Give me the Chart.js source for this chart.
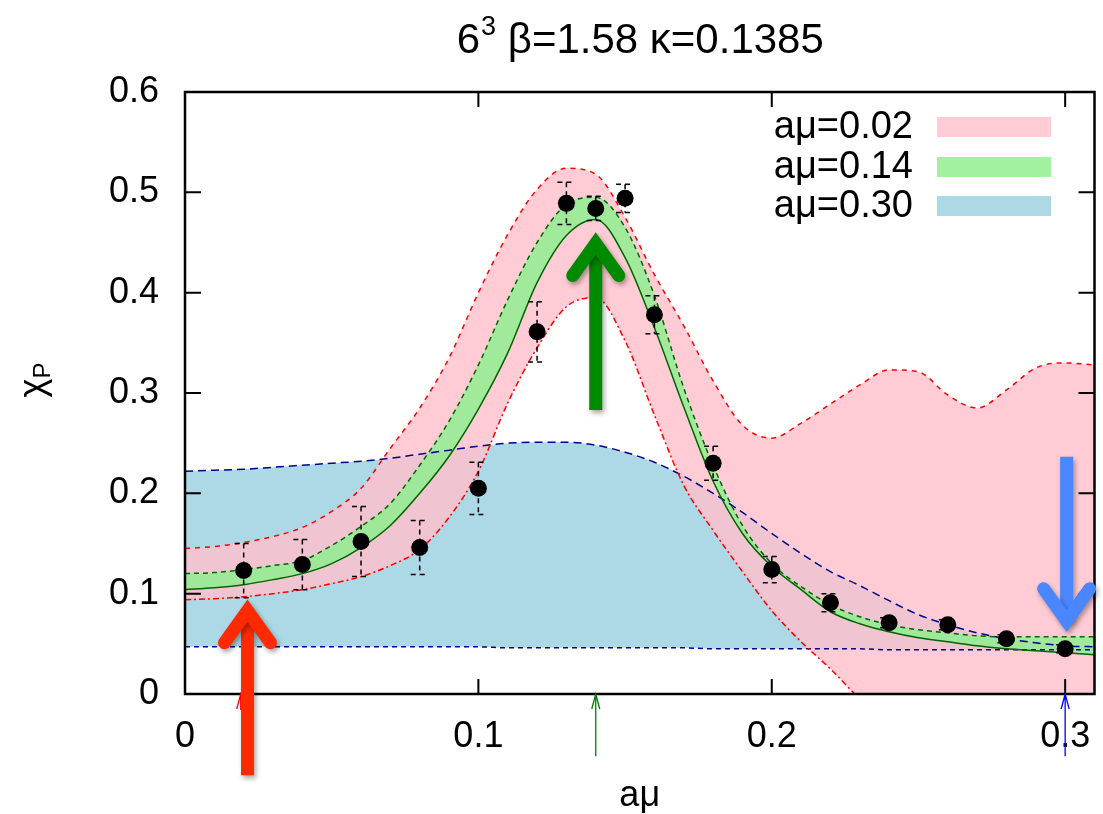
<!DOCTYPE html>
<html>
<head>
<meta charset="utf-8">
<script src="https://cdn.jsdelivr.net/npm/chart.js@4.4.0/dist/chart.umd.min.js"></script>
<style>
  html, body { margin: 0; padding: 0; background: #fff; }
</style>
</head>
<body>
<canvas id="chart" width="1103" height="814"></canvas>
<script>
// grid of a*mu values where the bands were sampled
var amu = [0, 0.01, 0.02, 0.03, 0.04, 0.05, 0.06, 0.07, 0.08, 0.09, 0.10, 0.11, 0.12, 0.13, 0.14, 0.15,
           0.16, 0.17, 0.18, 0.19, 0.20, 0.21, 0.22, 0.23, 0.24, 0.25, 0.26, 0.27, 0.28, 0.29, 0.30, 0.31];

// band a*mu = 0.02 (pink)
var up002 = [0.145, 0.147, 0.151, 0.157, 0.166, 0.182, 0.205, 0.245, 0.285, 0.335, 0.400, 0.458, 0.503, 0.524, 0.518, 0.475,
             0.418, 0.367, 0.312, 0.268, 0.255, 0.270, 0.289, 0.308, 0.323, 0.321, 0.298, 0.285, 0.303, 0.325, 0.330, 0.328];
var lo002 = [0.094, 0.095, 0.097, 0.100, 0.104, 0.110, 0.117, 0.128, 0.144, 0.176, 0.222, 0.290, 0.345, 0.386, 0.395, 0.352,
             0.278, 0.208, 0.163, 0.122, 0.083, 0.052, 0.025, -0.005, -0.030, -0.040, -0.020, -0.002, -0.020, -0.050, -0.060, -0.060];

// band a*mu = 0.14 (green)
var up014 = [0.120, 0.121, 0.124, 0.128, 0.133, 0.148, 0.167, 0.190, 0.228, 0.272, 0.328, 0.393, 0.450, 0.488, 0.495, 0.465,
             0.397, 0.305, 0.228, 0.168, 0.130, 0.107, 0.089, 0.077, 0.069, 0.064, 0.061, 0.058, 0.057, 0.057, 0.057, 0.057];
var lo014 = [0.104, 0.106, 0.109, 0.114, 0.120, 0.130, 0.146, 0.168, 0.200, 0.237, 0.284, 0.340, 0.410, 0.457, 0.473, 0.435,
             0.365, 0.286, 0.212, 0.160, 0.127, 0.104, 0.082, 0.070, 0.062, 0.056, 0.052, 0.048, 0.045, 0.043, 0.041, 0.039];

// band a*mu = 0.30 (blue)
var up030 = [0.222, 0.223, 0.224, 0.226, 0.228, 0.230, 0.232, 0.235, 0.239, 0.243, 0.247, 0.250, 0.251, 0.251, 0.248, 0.241,
             0.231, 0.217, 0.200, 0.181, 0.160, 0.140, 0.122, 0.108, 0.093, 0.079, 0.069, 0.061, 0.055, 0.051, 0.048, 0.047];
var lo030 = [0.047, 0.047, 0.047, 0.047, 0.047, 0.047, 0.047, 0.047, 0.047, 0.047, 0.047, 0.046, 0.046, 0.046, 0.046, 0.046,
             0.046, 0.046, 0.045, 0.045, 0.045, 0.045, 0.045, 0.045, 0.044, 0.044, 0.044, 0.044, 0.044, 0.044, 0.044, 0.044];

// measured points
var ptX   = [0.02, 0.04, 0.06, 0.08, 0.10, 0.12, 0.13, 0.14, 0.15, 0.16, 0.18, 0.20, 0.22, 0.24, 0.26, 0.28, 0.30];
var ptY   = [0.123, 0.129, 0.152, 0.146, 0.205, 0.361, 0.489, 0.484, 0.494, 0.378, 0.230, 0.124, 0.091, 0.071, 0.069, 0.055, 0.045];
var ptErr = [0.027, 0.025, 0.035, 0.027, 0.026, 0.030, 0.021, 0.012, 0.014, 0.019, 0.017, 0.013, 0.009, 0.005, 0.005, 0.004, 0.004];

var legendLabels = ['a\u03bc=0.02', 'a\u03bc=0.14', 'a\u03bc=0.30'];
var xTicks = [0, 0.1, 0.2, 0.3];
var yTicks = [0, 0.1, 0.2, 0.3, 0.4, 0.5, 0.6];

// arrows in data units (x, tail y, tip y)
var bigArrows = [
  { x: 0.0213, from: -0.081, to: 0.097, color: '#ff2a00' },
  { x: 0.1400, from: 0.283,  to: 0.463, color: '#008a00' },
  { x: 0.3005, from: 0.2365, to: 0.059, color: '#4a86ff' }
];
var thinArrows = [
  { x: 0.019, from: -0.016, to: 0, color: '#ff0000' },
  { x: 0.140, from: -0.062, to: 0, color: '#008000' },
  { x: 0.300, from: -0.062, to: 0, color: '#0000ff' }
];

var FONT = "'Liberation Sans', Arial, Helvetica, sans-serif";
var PINK = 'rgba(255,192,203,0.82)', GREEN = 'rgba(144,238,144,0.85)', BLUE = '#add8e6';

function pts(ys) { return amu.map(function (x, i) { return { x: x, y: ys[i] }; }); }

function curve(ys, color, dash, order, fill, bg) {
  return {
    data: pts(ys), borderColor: color, borderWidth: 1.5, borderDash: dash,
    pointRadius: 0, cubicInterpolationMode: 'monotone', order: order,
    fill: fill === undefined ? false : { target: fill }, backgroundColor: bg || 'transparent'
  };
}

var deco = {
  id: 'deco',
  afterDatasetsDraw: function (chart) {
    var ctx = chart.ctx, xs = chart.scales.x, ys = chart.scales.y;
    ctx.save();
    ctx.strokeStyle = '#000';
    ctx.lineWidth = 1.5;
    ctx.setLineDash([5, 4]);
    ptX.forEach(function (x, i) {
      var px = xs.getPixelForValue(x);
      var t = ys.getPixelForValue(ptY[i] + ptErr[i]);
      var b = ys.getPixelForValue(ptY[i] - ptErr[i]);
      ctx.beginPath();
      ctx.moveTo(px, t); ctx.lineTo(px, b);
      ctx.moveTo(px - 9, t); ctx.lineTo(px + 9, t);
      ctx.moveTo(px - 9, b); ctx.lineTo(px + 9, b);
      ctx.stroke();
    });
    ctx.restore();
  },
  afterDraw: function (chart) {
    var ctx = chart.ctx, a = chart.chartArea, xs = chart.scales.x, ys = chart.scales.y;
    ctx.save();
    // frame and inward ticks
    ctx.strokeStyle = '#000';
    ctx.lineWidth = 2.5;
    ctx.strokeRect(a.left, a.top, a.right - a.left, a.bottom - a.top);
    ctx.lineWidth = 2;
    ctx.beginPath();
    xTicks.forEach(function (v) {
      var p = xs.getPixelForValue(v);
      ctx.moveTo(p, a.bottom); ctx.lineTo(p, a.bottom - 15);
      ctx.moveTo(p, a.top); ctx.lineTo(p, a.top + 15);
    });
    yTicks.forEach(function (v) {
      var p = ys.getPixelForValue(v);
      ctx.moveTo(a.left, p); ctx.lineTo(a.left + 16, p);
      ctx.moveTo(a.right, p); ctx.lineTo(a.right - 16, p);
    });
    ctx.stroke();

    // legend
    var rowsY = [127, 167, 206], cols = [PINK, GREEN, BLUE];
    ctx.font = '38px ' + FONT;
    ctx.textAlign = 'right';
    ctx.textBaseline = 'middle';
    legendLabels.forEach(function (t, i) {
      ctx.fillStyle = '#000';
      ctx.fillText(t, 913, rowsY[i] + 1);
      ctx.fillStyle = cols[i];
      ctx.fillRect(937, rowsY[i] - 10, 114, 20);
    });

    // title with superscript
    ctx.fillStyle = '#000';
    ctx.textAlign = 'left';
    ctx.textBaseline = 'alphabetic';
    var big = '42px ' + FONT, sup = '27px ' + FONT;
    var p1 = '6', p2 = '3', p3 = ' \u03b2=1.58 \u03ba=0.1385';
    ctx.font = big; var w1 = ctx.measureText(p1).width, w3 = ctx.measureText(p3).width;
    ctx.font = sup; var w2 = ctx.measureText(p2).width;
    var x0 = (a.left + a.right) / 2 - (w1 + w2 + w3) / 2, base = 53;
    ctx.font = big; ctx.fillText(p1, x0, base);
    ctx.font = sup; ctx.fillText(p2, x0 + w1 + 1, base - 18);
    ctx.font = big; ctx.fillText(p3, x0 + w1 + w2 + 1, base);

    // x title
    ctx.textAlign = 'center';
    ctx.font = '36px ' + FONT;
    ctx.fillText('a\u03bc', (a.left + a.right) / 2, 806);

    // y title chi_P, rotated
    ctx.save();
    ctx.translate(44, 380);
    ctx.rotate(-Math.PI / 2);
    ctx.textAlign = 'left';
    ctx.font = '36px ' + FONT; var wc = ctx.measureText('\u03c7').width;
    ctx.font = '24px ' + FONT; var wp = ctx.measureText('P').width;
    var sx = -(wc + wp) / 2;
    ctx.font = '36px ' + FONT; ctx.fillText('\u03c7', sx, 0);
    ctx.font = '24px ' + FONT; ctx.fillText('P', sx + wc, 6);
    ctx.restore();

    // thin arrows under the axis
    thinArrows.forEach(function (ar) {
      var px = xs.getPixelForValue(ar.x), y0 = ys.getPixelForValue(ar.from), y1 = ys.getPixelForValue(ar.to);
      ctx.strokeStyle = ar.color;
      ctx.lineWidth = 1.3;
      ctx.beginPath();
      ctx.moveTo(px, y0); ctx.lineTo(px, y1);
      ctx.moveTo(px - 4, y1 + 15); ctx.lineTo(px, y1); ctx.lineTo(px + 4, y1 + 15);
      ctx.stroke();
    });

    // big arrows with shadow
    bigArrows.forEach(function (ar) {
      var px = xs.getPixelForValue(ar.x), y0 = ys.getPixelForValue(ar.from), y1 = ys.getPixelForValue(ar.to);
      var dir = y1 < y0 ? -1 : 1;           // -1 points up
      var tip = y1 - dir * 14;              // path tip (miter sticks out)
      ctx.save();
      ctx.shadowColor = 'rgba(0,0,0,0.35)';
      ctx.shadowBlur = 5;
      ctx.shadowOffsetX = 2;
      ctx.shadowOffsetY = 3;
      ctx.strokeStyle = ar.color;
      ctx.lineWidth = 13;
      ctx.lineCap = 'butt';
      ctx.beginPath();
      ctx.moveTo(px, y0); ctx.lineTo(px, tip);
      ctx.stroke();
      ctx.lineCap = 'round';
      ctx.lineJoin = 'miter';
      ctx.beginPath();
      ctx.moveTo(px - 23, tip - dir * 32); ctx.lineTo(px, tip); ctx.lineTo(px + 23, tip - dir * 32);
      ctx.stroke();
      ctx.restore();
    });
    ctx.restore();
  }
};

var tickFmt = function (v) { return String(Math.round(v * 10) / 10); };

new Chart(document.getElementById('chart'), {
  type: 'line',
  data: {
    datasets: [
      curve(lo030, '#00008b', [5, 4], 6),
      curve(up030, '#00008b', [8, 5], 5, 0, BLUE),
      curve(lo002, '#ff0000', [6, 3, 2, 3], 4),
      curve(up002, '#ff0000', [5, 5], 3, 2, PINK),
      curve(lo014, '#006400', [], 2),
      curve(up014, '#006400', [5, 4], 1, 4, GREEN),
      {
        data: ptX.map(function (x, i) { return { x: x, y: ptY[i] }; }),
        showLine: false, pointRadius: 8.5, pointHoverRadius: 8.5,
        pointBackgroundColor: '#000', pointBorderWidth: 0, order: 0
      }
    ]
  },
  plugins: [deco],
  options: {
    responsive: false,
    animation: false,
    layout: { padding: { left: 0, right: 6, top: 92, bottom: 0 } },
    plugins: {
      legend: { display: false },
      title: { display: false },
      tooltip: { enabled: false },
      filler: { drawTime: 'beforeDatasetsDraw' }
    },
    scales: {
      x: {
        type: 'linear', min: 0, max: 0.31,
        grid: { display: false, drawTicks: false },
        border: { display: false },
        ticks: { stepSize: 0.1, includeBounds: false, color: '#000', padding: 21,
                 font: { size: 36, family: FONT }, callback: tickFmt, maxRotation: 0 },
        afterFit: function (s) { s.height = 120; s.paddingLeft = 0; s.paddingRight = 0; }
      },
      y: {
        type: 'linear', min: 0, max: 0.6,
        grid: { display: false, drawTicks: false },
        border: { display: false },
        ticks: { stepSize: 0.1, includeBounds: false, color: '#000', padding: 26,
                 font: { size: 36, family: FONT }, callback: tickFmt },
        afterFit: function (s) { s.width = 185; s.paddingTop = 0; s.paddingBottom = 0; }
      }
    }
  }
});
</script>
</body>
</html>
